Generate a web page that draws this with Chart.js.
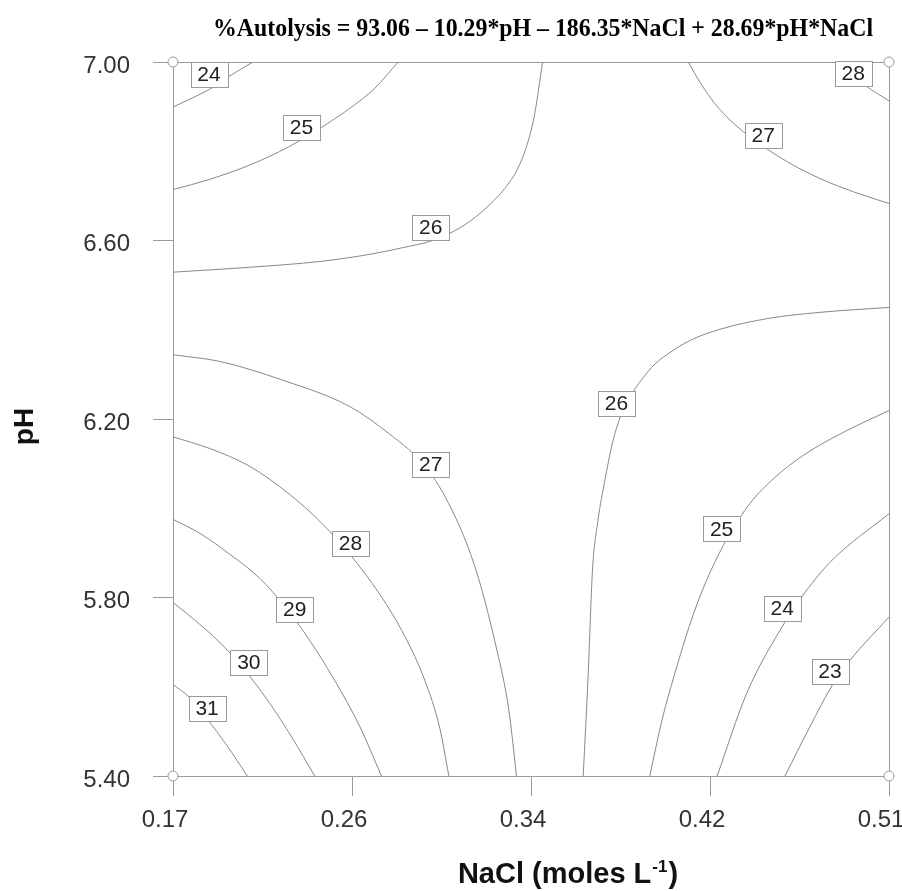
<!DOCTYPE html>
<html>
<head>
<meta charset="utf-8">
<script src="https://cdn.jsdelivr.net/npm/chart.js@4.4.1/dist/chart.umd.min.js"></script>
<style>
html,body{margin:0;padding:0;background:#fff;}
#wrap{width:902px;height:891px;position:relative;}
</style>
</head>
<body>
<div id="wrap"><canvas id="c" width="902" height="891"></canvas></div>
<script>
// ---- text ----
const titleText = '%Autolysis = 93.06 \u2013 10.29*pH \u2013 186.35*NaCl + 28.69*pH*NaCl';
const xTitleMain = 'NaCl (moles L';
const xTitleSup = '-1';
const xTitleEnd = ')';
const yTitle = 'pH';

// ---- axes ----
const xTickValues = [0.17, 0.255, 0.34, 0.425, 0.51];
const xTickLabels = ['0.17', '0.26', '0.34', '0.42', '0.51'];
const yTickValues = [5.4, 5.8, 6.2, 6.6, 7.0];
const yTickLabels = ['5.40', '5.80', '6.20', '6.60', '7.00'];

// ---- contour lines: [NaCl, pH] ----
const contour24top = [[0.17,6.899],[0.1889,6.943],[0.1960,6.966],[0.2080,7.0]];
const contour25top = [[0.17,6.714],[0.1874,6.737],[0.2064,6.769],[0.2254,6.811],[0.2397,6.851],[0.2539,6.896],[0.2658,6.941],[0.2769,7.0]];
const contour26top = [[0.17,6.529],[0.2064,6.540],[0.2397,6.553],[0.2634,6.569],[0.2801,6.585],[0.2920,6.598],[0.3014,6.616],[0.3110,6.643],[0.3205,6.681],[0.3276,6.717],[0.3338,6.762],[0.3385,6.820],[0.3418,6.885],[0.3455,7.0]];
const contour27top = [[0.4147,7.0],[0.4202,6.955],[0.4273,6.907],[0.4368,6.860],[0.4487,6.816],[0.4630,6.773],[0.4772,6.739],[0.4938,6.708],[0.51,6.683]];
const contour28top = [[0.4843,7.0],[0.4915,6.975],[0.5001,6.943],[0.51,6.913]];
const contour27low = [[0.17,6.344],[0.1922,6.329],[0.2221,6.287],[0.2539,6.228],[0.2729,6.166],[0.2872,6.107],[0.2991,6.027],[0.3133,5.870],[0.3238,5.682],[0.3295,5.547],[0.3331,5.4]];
const contour28low = [[0.17,6.160],[0.1874,6.134],[0.2064,6.094],[0.2254,6.031],[0.2397,5.971],[0.2539,5.897],[0.2682,5.807],[0.2801,5.713],[0.2896,5.614],[0.2967,5.507],[0.3010,5.4]];
const contour29 = [[0.17,5.975],[0.1827,5.944],[0.1969,5.897],[0.2112,5.843],[0.2231,5.780],[0.2349,5.704],[0.2468,5.614],[0.2587,5.511],[0.2690,5.4]];
const contour30 = [[0.17,5.789],[0.1827,5.740],[0.1946,5.688],[0.2060,5.626],[0.2159,5.563],[0.2264,5.487],[0.2373,5.4]];
const contour31 = [[0.17,5.605],[0.1779,5.576],[0.1860,5.529],[0.1955,5.469],[0.2053,5.4]];
const contour26low = [[0.3648,5.4],[0.3671,5.622],[0.3692,5.861],[0.3718,5.973],[0.3751,6.063],[0.3784,6.141],[0.3822,6.202],[0.3870,6.249],[0.3927,6.289],[0.3988,6.323],[0.4060,6.349],[0.4155,6.376],[0.4297,6.401],[0.4535,6.426],[0.4772,6.439],[0.51,6.450]];
const contour25low = [[0.3964,5.4],[0.4022,5.525],[0.4093,5.646],[0.4169,5.760],[0.4250,5.856],[0.4335,5.935],[0.4440,6.011],[0.4558,6.069],[0.4701,6.121],[0.4891,6.172],[0.51,6.219]];
const contour24low = [[0.4284,5.4],[0.4424,5.585],[0.4606,5.745],[0.4685,5.801],[0.4820,5.879],[0.51,5.988]];
const contour23 = [[0.4606,5.4],[0.4724,5.510],[0.4835,5.607],[0.4914,5.659],[0.51,5.756]];

const contourNames = ['24','25','26','27','28','27','28','29','30','31','26','25','24','23'];
const contourLines = [contour24top, contour25top, contour26top, contour27top, contour28top,
  contour27low, contour28low, contour29, contour30, contour31,
  contour26low, contour25low, contour24low, contour23];

// ---- contour labels ----
const labelText = ['24','25','26','27','28','27','28','29','30','31','26','25','24','23'];
const labelN    = [0.1871,0.2310,0.2924,0.4503,0.4930,0.2924,0.2543,0.2278,0.2060,0.1862,0.3806,0.4305,0.4593,0.4820];
const labelPH   = [6.972, 6.854, 6.629, 6.836, 6.974, 6.098, 5.921, 5.774, 5.655, 5.552, 6.235, 5.954, 5.775, 5.635];

// ---- design points at the corners ----
const cornerN  = [0.17, 0.17, 0.51, 0.51];
const cornerPH = [5.4, 7.0, 5.4, 7.0];

const AXIS = '#9a9a9a';
const LINE = '#888888';
const SANS = '"Liberation Sans", Arial, Helvetica, sans-serif';

const datasets = [{
  label: 'design points',
  data: cornerN.map((n, i) => ({x: n, y: cornerPH[i]})),
  showLine: false,
  pointRadius: 5,
  pointHoverRadius: 5,
  pointBackgroundColor: '#ffffff',
  pointBorderColor: AXIS,
  pointBorderWidth: 1,
  clip: false,
  order: -1
}];
contourLines.forEach((pts, i) => {
  datasets.push({
    label: contourNames[i],
    data: pts.map(p => ({x: p[0], y: p[1]})),
    showLine: true,
    pointRadius: 0,
    pointHoverRadius: 0,
    borderColor: LINE,
    borderWidth: 1,
    cubicInterpolationMode: 'monotone',
    fill: false
  });
});

const framePlugin = {
  id: 'frame',
  beforeDatasetsDraw(chart) {
    const a = chart.chartArea, ctx = chart.ctx;
    ctx.save();
    ctx.strokeStyle = AXIS;
    ctx.lineWidth = 1;
    ctx.beginPath();
    ctx.moveTo(Math.round(a.left) + 0.5, Math.round(a.top) + 0.5);
    ctx.lineTo(Math.round(a.right) + 0.5, Math.round(a.top) + 0.5);
    ctx.lineTo(Math.round(a.right) + 0.5, Math.round(a.bottom) + 0.5);
    ctx.stroke();
    ctx.restore();
  }
};

const labelPlugin = {
  id: 'contourLabels',
  afterDatasetsDraw(chart) {
    const ctx = chart.ctx, xs = chart.scales.x, ys = chart.scales.y;
    ctx.save();
    ctx.font = '21px ' + SANS;
    ctx.textAlign = 'center';
    ctx.textBaseline = 'middle';
    labelText.forEach((t, i) => {
      const px = xs.getPixelForValue(labelN[i]);
      const py = ys.getPixelForValue(labelPH[i]);
      const w = 37, h = 25;
      const l = Math.round(px - w / 2) + 0.5, tp = Math.round(py - h / 2) + 0.5;
      ctx.fillStyle = '#ffffff';
      ctx.fillRect(l, tp, w, h);
      ctx.strokeStyle = AXIS;
      ctx.lineWidth = 1;
      ctx.strokeRect(l, tp, w, h);
      ctx.fillStyle = '#222222';
      ctx.fillText(t, px, py + 1);
    });
    ctx.restore();
  }
};

const textPlugin = {
  id: 'texts',
  afterDraw(chart) {
    const ctx = chart.ctx;
    ctx.save();
    // main title
    ctx.fillStyle = '#000';
    ctx.font = 'bold 25px "Liberation Serif", "Times New Roman", serif';
    ctx.textBaseline = 'alphabetic';
    ctx.textAlign = 'left';
    const tw = ctx.measureText(titleText).width;
    const target = 660;
    const sx = Math.min(1, target / tw);
    ctx.save();
    ctx.translate(213, 36);
    ctx.scale(sx, 1);
    ctx.fillText(titleText, 0, 0);
    ctx.restore();

    // x axis title with superscript
    ctx.fillStyle = '#111';
    ctx.font = 'bold 29px ' + SANS;
    const w1 = ctx.measureText(xTitleMain).width;
    ctx.font = 'bold 17px ' + SANS;
    const w2 = ctx.measureText(xTitleSup).width;
    ctx.font = 'bold 29px ' + SANS;
    const w3 = ctx.measureText(xTitleEnd).width;
    const total = w1 + w2 + w3 + 2;
    let x0 = 568 - total / 2;
    ctx.fillText(xTitleMain, x0, 883);
    ctx.font = 'bold 17px ' + SANS;
    ctx.fillText(xTitleSup, x0 + w1 + 1, 872);
    ctx.font = 'bold 29px ' + SANS;
    ctx.fillText(xTitleEnd, x0 + w1 + w2 + 2, 883);

    // y axis title
    ctx.save();
    ctx.translate(33, 426.5);
    ctx.rotate(-Math.PI / 2);
    ctx.textAlign = 'center';
    ctx.font = 'bold 28px ' + SANS;
    ctx.fillText(yTitle, 0, 0);
    ctx.restore();
    ctx.restore();
  }
};

new Chart(document.getElementById('c'), {
  type: 'scatter',
  data: { datasets },
  options: {
    responsive: false,
    animation: false,
    events: [],
    layout: { padding: { top: 62, right: 13, bottom: 0, left: 0 } },
    plugins: { legend: { display: false }, tooltip: { enabled: false }, title: { display: false } },
    scales: {
      x: {
        type: 'linear', min: 0.17, max: 0.51,
        afterBuildTicks: s => { s.ticks = xTickValues.map(v => ({ value: v })); },
        ticks: {
          callback: (v, i) => xTickLabels[i],
          font: { family: SANS, size: 24 }, color: '#333',
          padding: 10, labelOffset: -8, maxRotation: 0, minRotation: 0, autoSkip: false
        },
        grid: { drawOnChartArea: false, drawTicks: true, tickLength: 20, color: AXIS, tickColor: AXIS },
        border: { display: true, color: AXIS },
        afterFit: s => { s.height = 115; s.paddingLeft = 0; s.paddingRight = 0; }
      },
      y: {
        type: 'linear', min: 5.4, max: 7.0,
        afterBuildTicks: s => { s.ticks = yTickValues.map(v => ({ value: v })); },
        ticks: {
          callback: (v, i) => yTickLabels[i],
          font: { family: SANS, size: 24 }, color: '#333',
          padding: 23, labelOffset: 4, autoSkip: false
        },
        grid: { drawOnChartArea: false, drawTicks: true, tickLength: 20, color: AXIS, tickColor: AXIS },
        border: { display: true, color: AXIS },
        afterFit: s => { s.width = 173; s.paddingTop = 0; s.paddingBottom = 0; }
      }
    }
  },
  plugins: [framePlugin, labelPlugin, textPlugin]
});
</script>
</body>
</html>
